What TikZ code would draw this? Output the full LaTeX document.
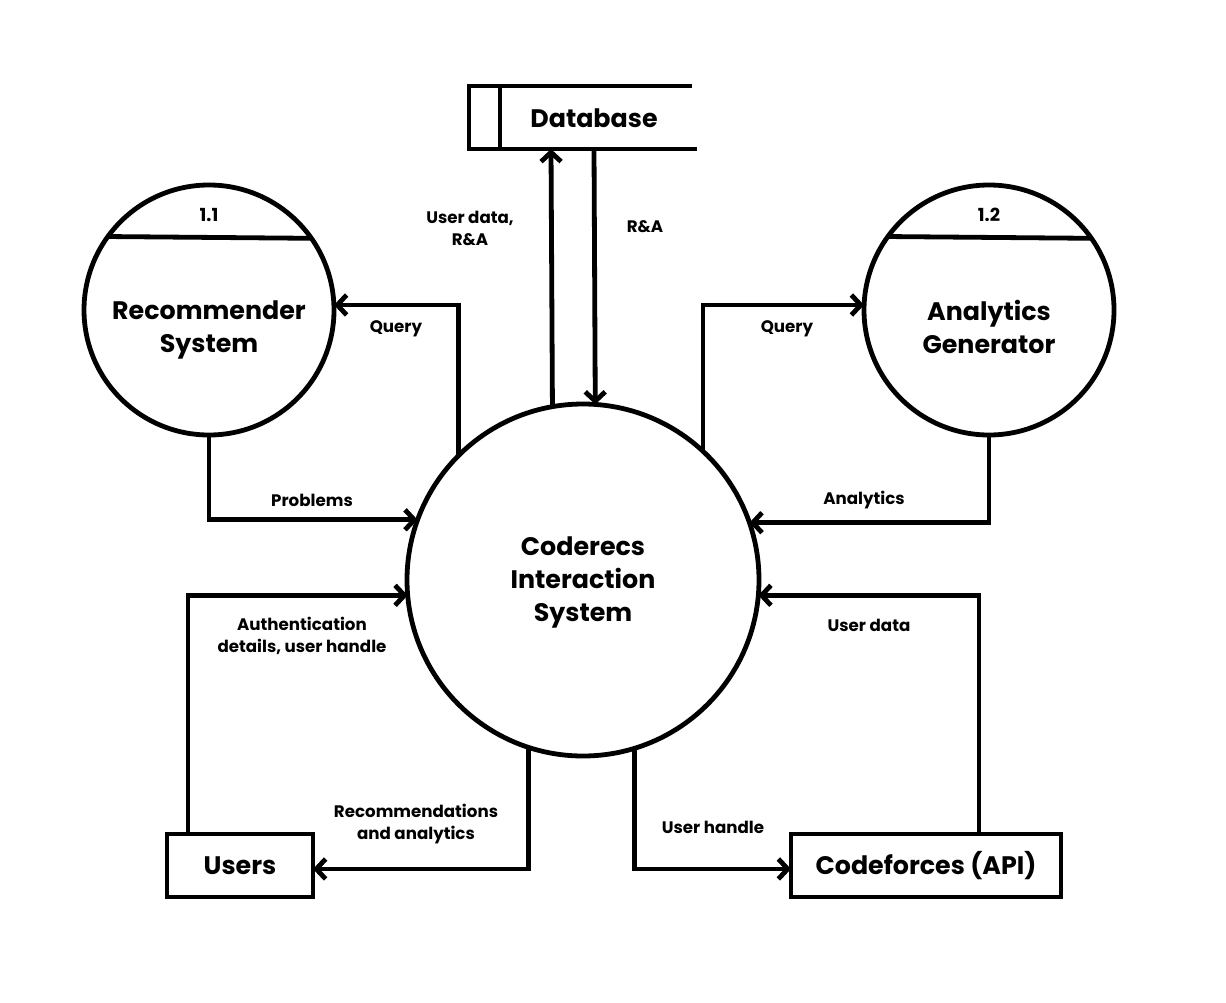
\documentclass[tikz,border=0pt]{standalone}
\usepackage{fontspec}
\setmainfont{Poppins}
\usetikzlibrary{arrows.meta}
\begin{document}
\begin{tikzpicture}[x=0.75pt,y=-0.75pt,
  line width=3.6pt,
  >={Straight Barb[length=7pt,width=15pt]},
  flow/.style={->,line join=miter},
  proc/.style={circle,draw,inner sep=0pt,outer sep=0pt},
  ptext/.style={align=center,inner sep=0pt,font=\fontsize{19}{24.75}\selectfont\bfseries},
  ent/.style={rectangle,draw,inner sep=0pt,outer sep=0pt,font=\fontsize{19}{24}\selectfont\bfseries},
  lbl/.style={align=center,inner sep=1pt,font=\fontsize{12.5}{16.5}\selectfont\bfseries},
  num/.style={inner sep=1pt,font=\fontsize{13.5}{16}\selectfont\bfseries}]
\useasboundingbox (0,0) rectangle (1226,1002);

% processes
\node[proc,minimum size=264pt] (cis) at (583,580) {};
\node[proc,minimum size=187.5pt] (rec) at (209,310) {};
\node[proc,minimum size=187.5pt] (ana) at (989,310) {};
\node[ptext] (cist) at (583,582) {Coderecs\\Interaction\\System};
\node[ptext] (rect) at (209,330) {Recommender\\System};
\node[ptext] (anat) at (989,327) {Analytics\\Generator};
\draw (rec.144.3) -- (rec.35.7);
\draw (ana.144.3) -- (ana.35.7);
\node[num] (n11) at (209,215) {1.1};
\node[num] (n12) at (989,215) {1.2};

% entities
\node[ent,minimum width=109.5pt,minimum height=47.25pt] (users) at (240,865.5) {Users};
\node[ent,minimum width=202.5pt,minimum height=47.25pt] (cf) at (926,865.5) {Codeforces (API)};

% data store
\draw[line join=miter] (692,86) -- (469,86) -- (469,149) -- (697,149);
\draw (500,86) -- (500,149);
\node[font=\fontsize{19}{24}\selectfont\bfseries,inner sep=0pt] (db) at (594,118) {Database};
\coordinate (dbin) at (551,149);
\coordinate (dbout) at (594,149);

% flows
\draw[flow] (cis.100.5) -- (dbin);
\draw[flow] (dbout) -- (cis.86.4);
\draw[flow] (cis.135.3) |- ([yshift=3.75pt]rec.east);
\draw[flow] (cis.47.5) |- ([yshift=3.75pt]ana.west);
\draw[flow] (rec.south) |- (cis.160.8);
\draw[flow] (ana.south) |- (cis.19.2);
\draw[flow] ([xshift=15.75pt]users.north west) |- (cis.185.9);
\draw[flow] ([xshift=-61.5pt]cf.north east) |- (cis.-5.9);
\draw[flow] (cis.252.8) |- ([yshift=-2.6pt]users.east);
\draw[flow] (cis.287.2) |- ([yshift=-2.6pt]cf.west);

% labels
\node[lbl] (l1) at (470,228) {User data,\\R\&A};
\node[lbl] (l2) at (645,227) {R\&A};
\node[lbl] (l3) at (396,329) {Query};
\node[lbl] (l4) at (787,329) {Query};
\node[lbl] (l5) at (312,500) {Problems};
\node[lbl] (l6) at (864,500) {Analytics};
\node[lbl] (l7) at (302,636) {Authentication\\details, user handle};
\node[lbl] (l8) at (869,625) {User data};
\node[lbl] (l9) at (416,824) {Recommendations\\and analytics};
\node[lbl] (l10) at (713,827) {User handle};
\end{tikzpicture}
\end{document}
